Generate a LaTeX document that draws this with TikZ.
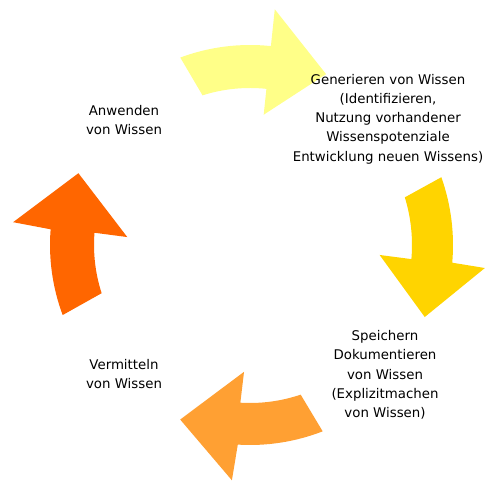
\documentclass[tikz,border=0pt]{standalone}
\usepackage{fontspec}
\setmainfont{DejaVu Sans}
\usepackage{tikz}
\usetikzlibrary{positioning,calc}

\definecolor{gelbhell}{RGB}{255,255,136}
\definecolor{gold}{RGB}{255,212,0}
\definecolor{orangehell}{RGB}{255,160,51}
\definecolor{orangerot}{RGB}{255,102,0}

\begin{document}
\begin{tikzpicture}[x=0.75pt,y=0.75pt,
  pfeil/.style={draw=none},
  txt/.style={align=center,inner sep=0pt,font=\fontsize{10}{14.4}\selectfont}]
\useasboundingbox (0,0) rectangle (485,481);
\fill[white] (0,0) rectangle (485,481);

\begin{scope}[shift={(250,236)}]
\fill[gelbhell,pfeil] (110.4:200) arc[start angle=110.4,end angle=84,radius=200] -- (84:237) -- (66:187) -- (84:131) -- (84:157) arc[start angle=84,end angle=107.6,radius=157] -- cycle;
\fill[gold,pfeil] (19.5:203) arc[start angle=19.5,end angle=-5,radius=203] -- (-5.6:236) -- (-22.4:189) -- (-4.4:130) -- (-5:162) arc[start angle=-5,end angle=17.1,radius=162] -- cycle;
\fill[orangehell,pfeil] (-68.7:200) arc[start angle=-68.7,end angle=-93.5,radius=200] -- (-94.4:236) -- (-111.8:188) -- (-92.7:127) -- (-93.5:158) arc[start angle=-93.5,end angle=-71.3,radius=158] -- cycle;
\fill[orangerot,pfeil] (200.5:200) arc[start angle=200.5,end angle=175.5,radius=200] -- (174.5:238) -- (157.3:186) -- (176.3:123) -- (175.5:156) arc[start angle=175.5,end angle=198,radius=156] -- cycle;
\end{scope}

\node[txt] (generieren) at (388,362) {Generieren von Wissen\\(Identifizieren,\\Nutzung vorhandener\\Wissenspotenziale\\Entwicklung neuen Wissens)};
\node[txt] (speichern) at (385,106) {Speichern\\Dokumentieren\\von Wissen\\(Explizitmachen\\von Wissen)};
\node[txt] (vermitteln) at (124,107) {Vermitteln\\von Wissen};
\node[txt] (anwenden) at (124,361) {Anwenden\\von Wissen};

\end{tikzpicture}
\end{document}
